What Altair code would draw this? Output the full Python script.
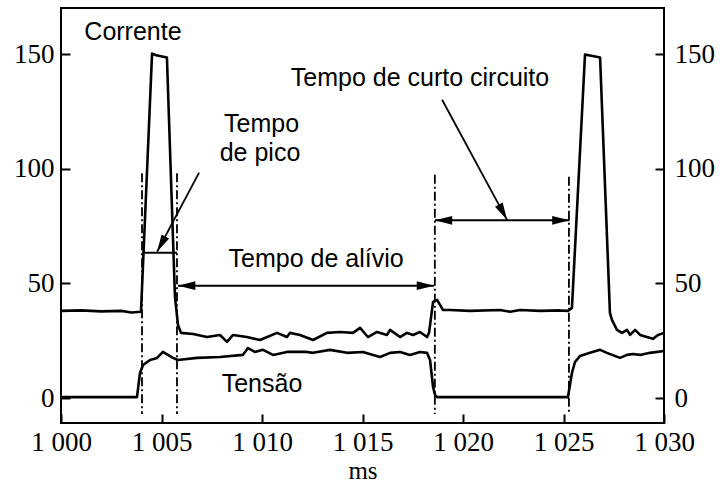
import altair as alt
import pandas as pd

# ---- data ----
cur_t = [1000.0, 1001.0, 1002.0, 1003.0, 1003.5, 1003.98, 1004.53, 1004.73, 1005.27, 1005.67,
         1005.82, 1005.97, 1006.57, 1007.26, 1007.91, 1008.26, 1008.56, 1009.25, 1009.90, 1010.75,
         1011.24, 1011.39, 1011.89, 1012.54, 1013.23, 1013.88, 1014.53, 1014.88, 1015.27, 1015.72,
         1016.22, 1016.37, 1016.87, 1017.21, 1017.51, 1017.86, 1018.21, 1018.31, 1018.51, 1018.71,
         1019.00, 1019.35, 1020.35, 1021.84, 1022.34, 1022.84, 1023.83, 1024.83, 1025.22, 1025.42,
         1026.07, 1026.82, 1027.31, 1027.41, 1027.66, 1027.91, 1028.16, 1028.31, 1028.56, 1028.81,
         1029.15, 1029.45, 1029.70, 1030.0]
cur_v = [38.0, 38.2, 37.8, 38.0, 37.3, 37.6, 150.2, 149.5, 148.5, 44.1,
         31.9, 28.4, 27.9, 26.6, 27.5, 24.5, 27.5, 26.6, 25.3, 28.4,
         26.6, 28.4, 27.5, 25.3, 28.4, 28.8, 28.4, 30.6, 26.6, 28.8,
         27.5, 29.7, 26.6, 28.4, 27.5, 28.8, 26.6, 28.4, 41.9, 42.8,
         38.4, 38.4, 38.0, 38.4, 37.6, 38.4, 38.0, 38.2, 38.0, 39.3,
         149.8, 148.5, 37.1, 34.1, 29.7, 28.4, 29.7, 27.5, 29.7, 27.5,
         26.6, 25.8, 27.5, 28.4]

volt_t = [1000.0, 1003.78, 1003.93, 1004.08, 1004.43, 1004.78, 1005.07, 1005.32, 1005.57, 1005.82,
          1006.77, 1007.91, 1009.05, 1009.30, 1009.65, 1010.05, 1010.55, 1011.24, 1011.54, 1012.24,
          1012.54, 1013.38, 1014.23, 1015.02, 1015.87, 1016.37, 1016.87, 1017.36, 1017.86, 1018.21,
          1018.36, 1018.51, 1018.61, 1018.71, 1025.22, 1025.42, 1025.57, 1025.82, 1026.32, 1026.82,
          1027.16, 1027.81, 1028.16, 1028.46, 1028.81, 1029.30, 1030.0]
volt_v = [0.4, 0.4, 10.9, 14.4, 16.6, 17.5, 20.1, 18.8, 17.5, 16.6,
          17.5, 17.9, 18.8, 21.8, 20.1, 21.0, 18.8, 20.1, 20.1, 20.1,
          19.7, 21.0, 19.7, 20.1, 17.9, 19.7, 20.1, 18.8, 20.1, 19.7,
          16.6, 4.8, 1.3, 0.4, 0.4, 10.9, 15.7, 18.3, 19.7, 21.0,
          19.7, 17.5, 18.8, 19.2, 18.8, 19.7, 20.5]

marker_t = [1004.03, 1005.77, 1018.6, 1025.27]
marker_top = [98.0, 98.0, 97.4, 96.5]
marker_bottom = [-7.0, -7.0, -7.0, -7.0]

span_x1 = [1004.03, 1005.82, 1018.6]
span_x2 = [1005.77, 1018.56, 1025.3]
span_y = [63.3, 49.0, 77.5]

ptr_x1 = [1006.87, 1018.96]
ptr_y1 = [98.3, 130.1]
ptr_x2 = [1004.78, 1022.19]
ptr_y2 = [63.8, 77.7]

head_x = [1005.82, 1018.56, 1018.6, 1025.3, 1004.78, 1022.19]
head_y = [49.0, 49.0, 77.5, 77.5, 63.8, 77.7]
head_angle = [270, 90, 270, 90, 208.6, 151.8]

labels = ["Corrente", "Tempo", "de pico", "Tempo de alívio", "Tempo de curto circuito", "Tensão"]
label_x = [1003.58, 1009.98, 1009.9, 1012.69, 1017.86, 1010.0]
label_y = [156.3, 116.2, 103.5, 57.2, 136.2, 2.6]

x_ticks = [1000, 1005, 1010, 1015, 1020, 1025, 1030]
y_ticks = [0, 50, 100, 150]

# ---- tables ----
cur_df = pd.DataFrame({"t": cur_t, "v": cur_v, "i": range(len(cur_t))})
volt_df = pd.DataFrame({"t": volt_t, "v": volt_v, "i": range(len(volt_t))})
marker_df = pd.DataFrame({"t": marker_t, "top": marker_top, "bot": marker_bottom})
span_df = pd.DataFrame({"x1": span_x1, "x2": span_x2, "y": span_y})
ptr_df = pd.DataFrame({"x1": ptr_x1, "y1": ptr_y1, "x2": ptr_x2, "y2": ptr_y2})
head_df = pd.DataFrame({"x": head_x, "y": head_y, "a": head_angle})
lab_df = pd.DataFrame({"x": label_x, "y": label_y, "txt": labels})

xs = alt.Scale(domain=[1000, 1030], nice=False, zero=False)
ys = alt.Scale(domain=[-10.9, 170.1], nice=False, zero=False)

SERIF = "Liberation Serif"
common = dict(offset=-9, tickSize=9, tickColor="black", tickWidth=2, domain=False, grid=False,
              labelFont=SERIF, labelFontSize=27, labelColor="black", labelFlush=False)

x_axis = alt.Axis(values=x_ticks, title="ms", labelPadding=6,
                  labelExpr="replace(format(datum.value, ','), ',', ' ')",
                  titleFont=SERIF, titleFontSize=25, titleFontWeight="normal",
                  titleColor="black", titlePadding=3, **common)
y_left = alt.Axis(values=y_ticks, title=None, orient="left", labelPadding=7, **common)
y_right = alt.Axis(values=y_ticks, title=None, orient="right", labelPadding=10, **common)

X = lambda f: alt.X(f, type="quantitative", scale=xs, axis=x_axis)

cur_line = alt.Chart(cur_df).mark_line(color="black", strokeWidth=2.6, strokeJoin="round").encode(
    x=X("t"), y=alt.Y("v:Q", scale=ys, axis=y_left), order="i:Q")
volt_line = alt.Chart(volt_df).mark_line(color="black", strokeWidth=2.6, strokeJoin="round").encode(
    x=X("t"), y=alt.Y("v:Q", scale=ys, axis=y_right), order="i:Q")

markers = alt.Chart(marker_df).mark_rule(color="black", strokeWidth=1.8, strokeDash=[9, 3, 2, 3]).encode(
    x=X("t"), y=alt.Y("top:Q", scale=ys, axis=None), y2="bot:Q")

spans = alt.Chart(span_df).mark_rule(color="black", strokeWidth=2).encode(
    x=X("x1"), x2="x2:Q", y=alt.Y("y:Q", scale=ys, axis=None))

ptrs = alt.Chart(ptr_df).mark_rule(color="black", strokeWidth=1.8).encode(
    x=X("x1"), x2="x2:Q", y=alt.Y("y1:Q", scale=ys, axis=None), y2="y2:Q")

heads = alt.Chart(head_df).mark_point(
    shape="M0,0L0.5,2L-0.5,2Z", filled=True, color="black", opacity=1, size=300, strokeWidth=0
).encode(x=X("x"), y=alt.Y("y:Q", scale=ys, axis=None), angle=alt.Angle("a:Q", scale=None))

texts = alt.Chart(lab_df).mark_text(
    font="Liberation Sans", fontSize=25, align="center", baseline="alphabetic", color="black"
).encode(x=X("x"), y=alt.Y("y:Q", scale=ys, axis=None), text="txt:N")

chart = alt.layer(cur_line, volt_line, markers, spans, ptrs, heads, texts).resolve_scale(
    y="independent"
).properties(
    width=603, height=415,
    autosize=alt.AutoSizeParams(type="none"),
    padding={"left": 61, "top": 8, "right": 58, "bottom": 67},
).configure_view(stroke="black", strokeWidth=2)

chart.save("out.html", embed_options={"renderer": "svg", "actions": False})
